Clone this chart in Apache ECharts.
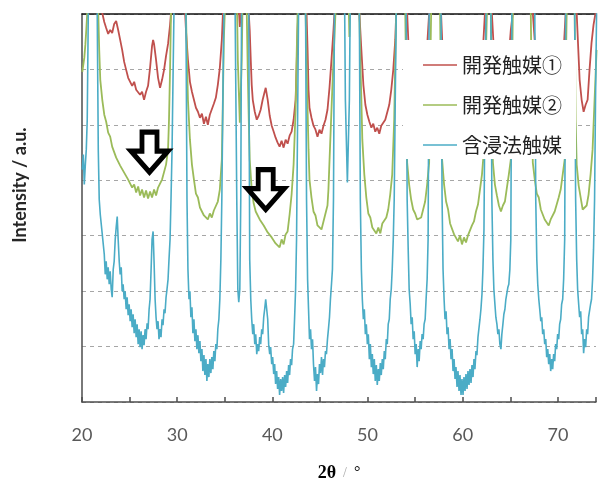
<!DOCTYPE html>
<html><head><meta charset="utf-8">
<script src="https://cdn.jsdelivr.net/npm/echarts@6/dist/echarts.min.js"></script>
<style>html,body{margin:0;padding:0;background:#fff}#c{width:599px;height:487px}</style>
</head><body><div id="c"></div>
<script>
const seriesNames = ['開発触媒①', '開発触媒②', '含浸法触媒'];
const xTickLabels = [20, 30, 40, 50, 60, 70];
// [2θ (deg), intensity (a.u.)]
const catalyst1 = [[20.03,463],[21.50,423],[21.92,398],[22.13,390],[22.34,381],[22.54,375],[22.75,369],[22.96,373],[23.17,370],[23.38,379],[23.59,382],[23.80,373],[24.01,363],[24.22,353],[24.43,341],[24.64,333],[24.85,325],[25.06,327],[25.27,317],[25.48,321],[25.69,313],[25.90,315],[26.10,308],[26.31,311],[26.52,303],[26.73,311],[26.94,317],[27.15,335],[27.36,357],[27.47,363],[27.57,359],[27.78,343],[27.99,325],[28.20,315],[28.41,323],[28.62,333],[28.83,347],[29.04,359],[29.25,378],[29.35,390],[29.46,443],[30.08,483],[30.71,443],[30.82,393],[30.92,373],[31.13,343],[31.34,321],[31.55,311],[31.76,303],[31.97,295],[32.18,291],[32.39,285],[32.60,289],[32.81,279],[33.02,286],[33.22,278],[33.43,288],[33.64,290],[33.85,299],[34.06,305],[34.27,318],[34.48,335],[34.69,363],[34.80,389],[34.90,443],[35.74,483],[36.37,413],[36.58,376],[36.78,408],[37.10,473],[37.41,423],[37.52,390],[37.62,373],[37.73,343],[37.83,318],[37.94,303],[38.15,291],[38.36,283],[38.56,287],[38.77,293],[38.98,303],[39.19,311],[39.30,315],[39.51,303],[39.72,287],[39.93,277],[40.14,271],[40.34,265],[40.55,260],[40.76,256],[40.97,262],[41.18,255],[41.39,263],[41.60,259],[41.81,267],[42.02,271],[42.23,283],[42.44,303],[42.54,333],[42.65,373],[42.75,398],[42.86,443],[43.17,483],[43.49,423],[43.59,390],[43.70,353],[43.80,313],[43.90,295],[44.11,285],[44.32,277],[44.53,273],[44.74,266],[44.95,273],[45.16,269],[45.37,277],[45.58,283],[45.79,293],[46.00,315],[46.21,343],[46.42,373],[46.52,390],[46.63,443],[47.26,493],[47.88,413],[48.30,493],[48.93,443],[49.14,390],[49.35,353],[49.56,318],[49.77,298],[49.98,288],[50.19,281],[50.40,275],[50.60,279],[50.81,271],[51.02,275],[51.23,269],[51.44,277],[51.65,275],[51.86,283],[52.07,285],[52.28,298],[52.49,313],[52.70,333],[52.91,363],[53.01,390],[53.12,443],[53.64,483],[54.06,423],[54.16,390],[54.37,343],[54.79,303],[55.21,285],[55.63,293],[56.05,323],[56.36,373],[56.47,390],[56.57,443],[57.10,483],[57.62,433],[57.72,390],[57.93,343],[58.56,293],[59.19,273],[59.82,263],[60.45,265],[61.08,278],[61.70,303],[62.12,353],[62.33,390],[62.44,443],[62.75,483],[62.96,443],[63.06,390],[63.38,333],[64.01,303],[64.64,323],[65.05,373],[65.26,390],[65.37,443],[66.31,483],[67.25,443],[67.36,390],[67.78,333],[68.61,293],[69.24,283],[69.87,293],[70.50,333],[70.81,390],[70.92,443],[71.34,483],[71.86,443],[71.97,390],[72.28,323],[72.49,303],[72.70,291],[72.91,298],[73.12,303],[73.32,333],[73.53,360],[73.74,378],[73.95,390],[74.06,398]];
const catalyst2 = [[20.03,331],[20.24,345],[20.35,358],[20.45,373],[20.55,390],[20.66,443],[21.08,493],[21.60,443],[21.71,390],[21.81,353],[21.92,323],[22.13,303],[22.34,288],[22.54,281],[22.75,270],[22.96,266],[23.17,256],[23.38,254],[23.59,245],[23.80,245],[24.01,237],[24.22,238],[24.43,230],[24.64,231],[24.85,223],[25.06,223],[25.27,215],[25.48,218],[25.69,210],[25.90,216],[26.10,207],[26.31,213],[26.52,205],[26.73,212],[26.94,204],[27.15,211],[27.36,205],[27.57,213],[27.78,207],[27.99,215],[28.20,213],[28.41,223],[28.62,225],[28.83,238],[29.04,253],[29.14,283],[29.25,333],[29.35,390],[29.46,443],[30.08,493],[30.82,443],[30.92,390],[31.03,343],[31.13,303],[31.34,263],[31.55,238],[31.76,223],[31.97,209],[32.18,205],[32.39,195],[32.60,195],[32.81,187],[33.02,189],[33.22,183],[33.43,189],[33.64,185],[33.85,192],[34.06,191],[34.27,201],[34.48,213],[34.69,243],[34.80,303],[34.90,363],[35.00,390],[35.11,443],[35.63,493],[36.26,413],[36.37,343],[36.58,280],[36.78,343],[36.89,413],[37.10,463],[37.31,390],[37.41,333],[37.52,283],[37.62,243],[37.83,213],[38.04,199],[38.25,191],[38.46,191],[38.67,183],[38.88,185],[39.09,177],[39.30,179],[39.51,170],[39.72,171],[39.93,165],[40.14,165],[40.34,159],[40.55,161],[40.76,155],[40.97,163],[41.18,158],[41.39,168],[41.60,171],[41.81,188],[42.02,208],[42.23,238],[42.44,293],[42.54,343],[42.65,390],[42.75,443],[43.07,493],[43.38,443],[43.49,390],[43.59,343],[43.70,293],[43.80,253],[43.90,223],[44.11,205],[44.32,191],[44.53,187],[44.74,177],[44.95,177],[45.16,173],[45.37,181],[45.58,183],[45.79,197],[45.89,213],[46.00,241],[46.21,293],[46.42,343],[46.63,390],[46.73,443],[47.36,493],[47.99,413],[48.09,366],[48.20,413],[48.62,493],[49.03,433],[49.14,390],[49.24,343],[49.35,303],[49.45,263],[49.66,228],[49.87,205],[50.08,189],[50.29,185],[50.50,175],[50.71,177],[50.92,169],[51.13,175],[51.34,169],[51.55,179],[51.76,177],[51.97,185],[52.17,193],[52.38,208],[52.59,228],[52.80,283],[52.91,343],[53.01,390],[53.12,443],[53.54,493],[53.85,443],[53.96,390],[54.06,323],[54.16,240],[54.37,218],[54.58,203],[54.79,193],[55.00,189],[55.21,183],[55.42,185],[55.63,185],[55.84,193],[56.05,201],[56.26,218],[56.47,240],[56.57,323],[56.68,390],[56.78,443],[57.20,493],[57.52,443],[57.62,390],[57.72,303],[57.83,243],[58.04,218],[58.25,201],[58.46,193],[58.67,179],[58.88,177],[59.09,168],[59.29,169],[59.50,161],[59.71,167],[59.92,158],[60.13,165],[60.34,160],[60.55,167],[60.76,167],[60.97,177],[61.18,181],[61.39,191],[61.60,198],[61.81,213],[62.02,228],[62.23,253],[62.33,293],[62.44,353],[62.54,390],[62.64,443],[62.75,483],[62.85,443],[62.96,390],[63.06,283],[63.17,240],[63.38,218],[63.59,207],[63.80,197],[64.01,191],[64.22,197],[64.43,201],[64.64,215],[64.84,228],[65.05,243],[65.16,303],[65.26,390],[65.37,443],[66.20,493],[67.04,443],[67.15,390],[67.25,303],[67.36,240],[67.57,223],[67.78,209],[67.99,205],[68.20,193],[68.40,193],[68.61,183],[68.82,185],[69.03,177],[69.24,183],[69.45,181],[69.66,191],[69.87,193],[70.08,205],[70.29,213],[70.50,228],[70.71,243],[70.81,323],[70.92,390],[71.02,443],[71.34,493],[71.65,443],[71.76,390],[71.86,283],[71.97,238],[72.18,217],[72.39,205],[72.60,193],[72.81,193],[73.02,197],[73.22,208],[73.43,228],[73.64,253],[73.85,303],[73.95,326],[74.06,353]];
const impregnated = [[20.03,233],[20.14,248],[20.24,218],[20.35,238],[20.45,253],[20.55,283],[20.66,390],[20.76,463],[21.08,503],[21.50,463],[21.60,390],[21.71,253],[21.81,203],[21.92,188],[22.13,168],[22.34,148],[22.44,128],[22.54,141],[22.65,123],[22.75,135],[22.86,118],[22.96,131],[23.07,113],[23.17,105],[23.28,133],[23.38,141],[23.49,163],[23.59,175],[23.70,186],[23.80,163],[23.91,141],[24.01,128],[24.12,135],[24.22,111],[24.32,118],[24.43,103],[24.53,111],[24.64,93],[24.74,105],[24.85,87],[24.95,98],[25.06,81],[25.16,93],[25.27,75],[25.37,88],[25.48,69],[25.58,83],[25.69,65],[25.79,78],[25.90,58],[26.00,73],[26.10,55],[26.21,71],[26.31,53],[26.42,67],[26.52,57],[26.63,73],[26.73,63],[26.84,79],[26.94,73],[27.05,93],[27.15,103],[27.26,133],[27.36,163],[27.47,171],[27.57,141],[27.68,103],[27.78,85],[27.88,73],[27.99,81],[28.09,63],[28.20,73],[28.30,65],[28.41,83],[28.51,77],[28.62,93],[28.72,89],[28.83,105],[28.93,113],[29.04,123],[29.14,143],[29.25,163],[29.35,203],[29.46,253],[29.56,323],[29.66,390],[29.77,463],[30.29,503],[30.82,463],[30.92,390],[31.03,203],[31.13,133],[31.24,103],[31.34,111],[31.44,85],[31.55,95],[31.65,69],[31.76,83],[31.86,61],[31.97,73],[32.07,53],[32.18,67],[32.28,49],[32.39,61],[32.49,41],[32.60,53],[32.70,31],[32.81,47],[32.91,27],[33.02,43],[33.12,21],[33.22,38],[33.33,25],[33.43,43],[33.54,29],[33.64,45],[33.75,33],[33.85,51],[33.96,41],[34.06,58],[34.17,53],[34.27,73],[34.38,83],[34.48,103],[34.59,143],[34.69,203],[34.80,303],[34.90,390],[35.00,463],[35.53,503],[36.05,433],[36.26,203],[36.37,113],[36.47,100],[36.58,113],[36.68,203],[36.78,433],[37.10,503],[37.41,433],[37.52,390],[37.62,143],[37.73,103],[37.83,83],[37.94,68],[38.04,78],[38.15,58],[38.25,68],[38.36,48],[38.46,58],[38.56,51],[38.67,65],[38.77,58],[38.88,73],[38.98,68],[39.09,85],[39.19,93],[39.30,103],[39.40,105],[39.51,83],[39.61,58],[39.72,48],[39.82,55],[39.93,38],[40.03,45],[40.14,28],[40.24,38],[40.34,18],[40.45,31],[40.55,13],[40.66,25],[40.76,7],[40.87,23],[40.97,11],[41.08,25],[41.18,9],[41.29,27],[41.39,15],[41.50,31],[41.60,19],[41.71,37],[41.81,27],[41.91,43],[42.02,37],[42.12,53],[42.23,58],[42.33,83],[42.44,113],[42.54,163],[42.65,283],[42.75,390],[42.86,463],[43.17,503],[43.38,443],[43.49,390],[43.59,203],[43.70,123],[43.80,93],[43.90,63],[44.01,73],[44.11,53],[44.22,63],[44.32,38],[44.43,21],[44.53,35],[44.64,11],[44.74,28],[44.85,18],[44.95,38],[45.06,29],[45.16,45],[45.27,27],[45.37,43],[45.47,35],[45.58,51],[45.68,48],[45.79,63],[45.89,73],[46.00,85],[46.10,103],[46.21,118],[46.31,133],[46.42,203],[46.52,390],[46.63,463],[47.05,503],[47.57,423],[47.67,303],[47.88,220],[48.09,303],[48.20,423],[48.62,503],[49.03,443],[49.14,390],[49.24,203],[49.35,133],[49.45,103],[49.56,83],[49.66,93],[49.77,68],[49.87,78],[49.98,58],[50.08,68],[50.19,43],[50.29,58],[50.40,35],[50.50,48],[50.60,28],[50.71,43],[50.81,21],[50.92,37],[51.02,17],[51.13,33],[51.23,21],[51.34,39],[51.44,27],[51.55,43],[51.65,33],[51.76,51],[51.86,43],[51.97,63],[52.07,58],[52.17,78],[52.28,83],[52.38,103],[52.49,113],[52.59,133],[52.70,163],[52.80,203],[52.91,303],[53.01,390],[53.12,463],[53.54,503],[53.96,433],[54.06,390],[54.16,203],[54.27,153],[54.37,113],[54.48,98],[54.58,78],[54.69,85],[54.79,63],[54.90,71],[55.00,48],[55.11,58],[55.21,35],[55.32,53],[55.42,41],[55.53,61],[55.63,53],[55.73,68],[55.84,63],[55.94,78],[56.05,83],[56.15,103],[56.26,123],[56.36,163],[56.47,390],[56.57,463],[57.10,503],[57.62,443],[57.72,390],[57.83,203],[57.93,133],[58.04,103],[58.14,83],[58.25,91],[58.35,68],[58.46,75],[58.56,53],[58.67,63],[58.77,43],[58.88,53],[58.98,31],[59.09,43],[59.19,23],[59.29,35],[59.40,15],[59.50,31],[59.61,11],[59.71,27],[59.82,7],[59.92,23],[60.03,7],[60.13,25],[60.24,11],[60.34,28],[60.45,13],[60.55,31],[60.66,17],[60.76,33],[60.87,19],[60.97,37],[61.08,25],[61.18,43],[61.28,33],[61.39,51],[61.49,47],[61.60,65],[61.70,63],[61.81,83],[61.91,93],[62.02,108],[62.12,133],[62.23,173],[62.33,303],[62.44,390],[62.54,463],[62.75,503],[62.85,463],[62.96,390],[63.06,203],[63.17,143],[63.27,113],[63.38,98],[63.48,85],[63.59,78],[63.69,68],[63.80,73],[63.90,58],[64.01,53],[64.11,68],[64.22,78],[64.32,88],[64.43,93],[64.53,103],[64.64,105],[64.74,115],[64.84,118],[64.95,133],[65.05,163],[65.16,390],[65.26,463],[66.31,503],[67.46,463],[67.57,390],[67.67,203],[67.78,143],[67.88,118],[67.99,103],[68.09,93],[68.20,81],[68.30,85],[68.40,68],[68.51,73],[68.61,58],[68.72,63],[68.82,45],[68.93,53],[69.03,38],[69.14,48],[69.24,31],[69.35,43],[69.45,33],[69.55,48],[69.66,41],[69.76,58],[69.87,53],[69.97,68],[70.08,63],[70.18,78],[70.29,83],[70.39,98],[70.50,103],[70.60,123],[70.71,163],[70.81,390],[70.92,463],[71.34,503],[71.65,463],[71.76,390],[71.86,203],[71.97,143],[72.07,113],[72.18,98],[72.28,85],[72.39,91],[72.49,68],[72.60,73],[72.70,49],[72.81,63],[72.91,55],[73.02,73],[73.12,68],[73.22,85],[73.32,83],[73.43,98],[73.53,103],[73.64,123],[73.74,153],[73.85,203],[73.95,303],[74.06,390]];
const seriesColors = ['#C0504D', '#9BBB59', '#4BACC6'];
// arrows marking features: [2θ, intensity]
const arrowMarks = [[27.09, 250.5], [39.30, 213]];

const chart = echarts.init(document.getElementById('c'), null, {renderer: 'canvas'});
const mkSeries = (name, data, color, width, extra) => Object.assign({
  name, type: 'line', data, symbol: 'none', showSymbol: false, smooth: false,
  clip: true, animation: false,
  lineStyle: {color, width}, itemStyle: {color}
}, extra || {});

chart.setOption({
  animation: false,
  backgroundColor: '#fff',
  grid: {left: 82, right: 1, top: 14, bottom: 84, containLabel: false},
  legend: {
    orient: 'vertical', left: 403, top: 40, backgroundColor: '#fff',
    padding: [14, 14, 3, 20], itemWidth: 34, itemHeight: 1.5, itemGap: 18,
    icon: 'rect', selectedMode: false,
    data: seriesNames,
    textStyle: {fontSize: 20, fontFamily: 'Noto Sans CJK JP', color: '#222', lineHeight: 22}
  },
  xAxis: [{
    type: 'value', min: 20, max: 74, interval: 5,
    axisLine: {onZero: false, lineStyle: {color: '#4d4d4d', width: 1.5}},
    axisTick: {inside: true, length: 5, lineStyle: {color: '#4d4d4d', width: 1.5}},
    axisLabel: {
      formatter: v => xTickLabels.includes(v) ? String(v) : '',
      fontSize: 18, color: '#595959', fontFamily: 'Lato', margin: 24
    },
    splitLine: {show: false},
    name: '{a|2θ}{b|  /  }{c|°}', nameLocation: 'middle', nameGap: 62,
    nameTextStyle: {rich: {
      a: {fontFamily: 'Liberation Serif', fontWeight: 'bold', fontSize: 18, color: '#000'},
      b: {fontFamily: 'Liberation Serif', fontSize: 14, color: '#aaa'},
      c: {fontFamily: 'Liberation Serif', fontSize: 16, color: '#000'}
    }}
  }, {
    type: 'value', position: 'top', min: 20, max: 74,
    axisLine: {show: true, onZero: false, lineStyle: {color: '#111', width: 1.5}},
    axisTick: {show: false}, axisLabel: {show: false}, splitLine: {show: false}
  }],
  yAxis: {
    type: 'value', min: 0, max: 389, interval: 55.5714285714,
    axisLine: {show: true, onZero: false, lineStyle: {color: '#4d4d4d', width: 1.5}},
    axisTick: {show: false}, axisLabel: {show: false},
    splitLine: {show: true, lineStyle: {type: [4, 4], color: '#a6a6a6', width: 1}}
  },
  graphic: [{
    type: 'text', x: 20, y: 185, rotation: Math.PI / 2,
    style: {text: 'Intensity / a.u.', fontSize: 18, fontWeight: 'bold', fontFamily: 'Lato',
      fill: '#262626', align: 'center', verticalAlign: 'middle'}
  }],
  series: [
    mkSeries(seriesNames[0], catalyst1, seriesColors[0], 1.8),
    mkSeries(seriesNames[1], catalyst2, seriesColors[1], 1.8),
    mkSeries(seriesNames[2], impregnated, seriesColors[2], 1.6, {
      markPoint: {
        silent: true, animation: false,
        symbol: 'path://M11,0 L26,0 L26,19 L37,19 L18.5,40 L0,19 L11,19 Z',
        symbolSize: [37, 40], symbolKeepAspect: false,
        itemStyle: {color: '#fff', borderColor: '#000', borderWidth: 5},
        label: {show: false},
        data: arrowMarks.map(c => ({coord: c}))
      }
    })
  ]
});
</script>
</body></html>
